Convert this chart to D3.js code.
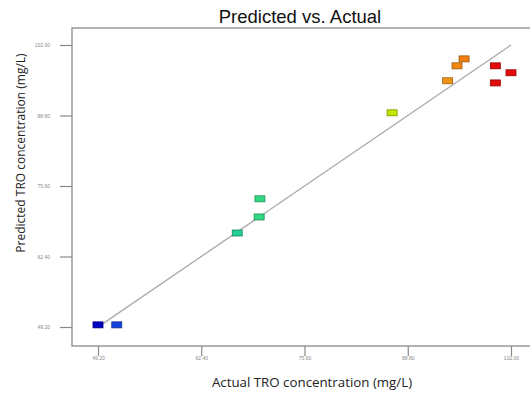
<!DOCTYPE html>
<html>
<head>
<meta charset="utf-8">
<script src="https://cdn.jsdelivr.net/npm/d3@7"></script>
<style>
  html, body { margin: 0; padding: 0; background: #fff; }
  svg { display: block; }
</style>
</head>
<body>
<div id="chart"></div>
<script>
// data
const actual    = [49.2, 51.6, 67.0, 69.8, 69.9, 86.8, 93.9, 95.1, 96.0, 100.0, 100.0, 102.0];
const predicted = [49.6, 49.6, 66.8, 69.8, 73.2, 89.3, 95.3, 98.1, 99.4, 98.1, 94.9, 96.8];
const tickValues = [49.2, 62.4, 75.6, 88.8, 102.0];
const tickLabels = ['49.20', '62.40', '75.60', '88.80', '102.00'];

const W = 530, H = 394;
const plotLeft = 72, plotTop = 28, plotBottom = 346, plotRight = 530;

const svg = d3.select('#chart').append('svg')
    .attr('width', W).attr('height', H);

const x = d3.scaleLinear().domain([49.2, 102]).range([98, 511]);
const y = d3.scaleLinear().domain([49.2, 102]).range([327, 45]);

// colour by actual value, blue -> green -> yellow -> orange -> red
const color = d3.scaleLinear()
    .domain([49.2, 52, 68, 87, 94, 97, 100])
    .range(['#0000c4', '#1a4ee0', '#22d890', '#c8e400', '#f09214', '#f07412', '#e20a0a'])
    .clamp(true);

// title
svg.append('text')
    .attr('x', 300).attr('y', 23)
    .attr('text-anchor', 'middle')
    .attr('font-family', 'Liberation Sans, Arial, sans-serif')
    .attr('font-size', '18.5px')
    .attr('fill', '#111')
    .text('Predicted vs. Actual');

// frame: left, top and bottom lines
svg.append('path')
    .attr('d', `M${plotRight},${plotTop}H${plotLeft}V${plotBottom}H${plotRight}`)
    .attr('fill', 'none')
    .attr('stroke', '#999')
    .attr('stroke-width', 1.5);

// x axis
const xAxis = d3.axisBottom(x).tickValues(tickValues)
    .tickSize(10).tickFormat((d, i) => tickLabels[i]);
const gx = svg.append('g').attr('transform', `translate(0,${plotBottom})`).call(xAxis);
gx.select('.domain').remove();
gx.selectAll('.tick line').attr('stroke', '#888').attr('stroke-width', 1.2);
gx.selectAll('.tick text')
    .attr('fill', '#888').attr('font-size', '5px')
    .attr('font-family', 'Liberation Sans, Arial, sans-serif')
    .attr('dy', '0.2em');

// y axis
const yAxis = d3.axisLeft(y).tickValues(tickValues)
    .tickSize(12).tickFormat((d, i) => tickLabels[i]);
const gy = svg.append('g').attr('transform', `translate(${plotLeft},0)`).call(yAxis);
gy.select('.domain').remove();
gy.selectAll('.tick line').attr('stroke', '#888').attr('stroke-width', 1.2);
gy.selectAll('.tick text')
    .attr('fill', '#888').attr('font-size', '5px')
    .attr('font-family', 'Liberation Sans, Arial, sans-serif')
    .attr('x', -22);

// axis titles
svg.append('text')
    .attr('x', 312).attr('y', 387)
    .attr('text-anchor', 'middle')
    .attr('font-family', 'Open Sans, Noto Sans, sans-serif')
    .attr('font-size', '13.3px')
    .attr('fill', '#222')
    .text('Actual TRO concentration (mg/L)');

svg.append('text')
    .attr('transform', 'translate(25,153) rotate(-90)')
    .attr('text-anchor', 'middle')
    .attr('font-family', 'Open Sans, Noto Sans, sans-serif')
    .attr('font-size', '12px')
    .attr('fill', '#222')
    .text('Predicted TRO concentration (mg/L)');

// y = x reference line
const lo = d3.min(predicted), hi = 102;
svg.append('line')
    .attr('x1', x(lo)).attr('y1', y(lo))
    .attr('x2', x(hi)).attr('y2', y(hi))
    .attr('stroke', '#aaa')
    .attr('stroke-width', 1.3);

// points
const rw = 10, rh = 6;
svg.append('g').selectAll('rect')
    .data(actual.map((a, i) => ({ a, p: predicted[i] })))
    .join('rect')
    .attr('x', d => x(d.a) - rw / 2)
    .attr('y', d => y(d.p) - rh / 2)
    .attr('width', rw).attr('height', rh)
    .attr('fill', d => color(d.a))
    .attr('stroke', d => d3.color(color(d.a)).darker(1.2))
    .attr('stroke-width', 0.8);
</script>
</body>
</html>
